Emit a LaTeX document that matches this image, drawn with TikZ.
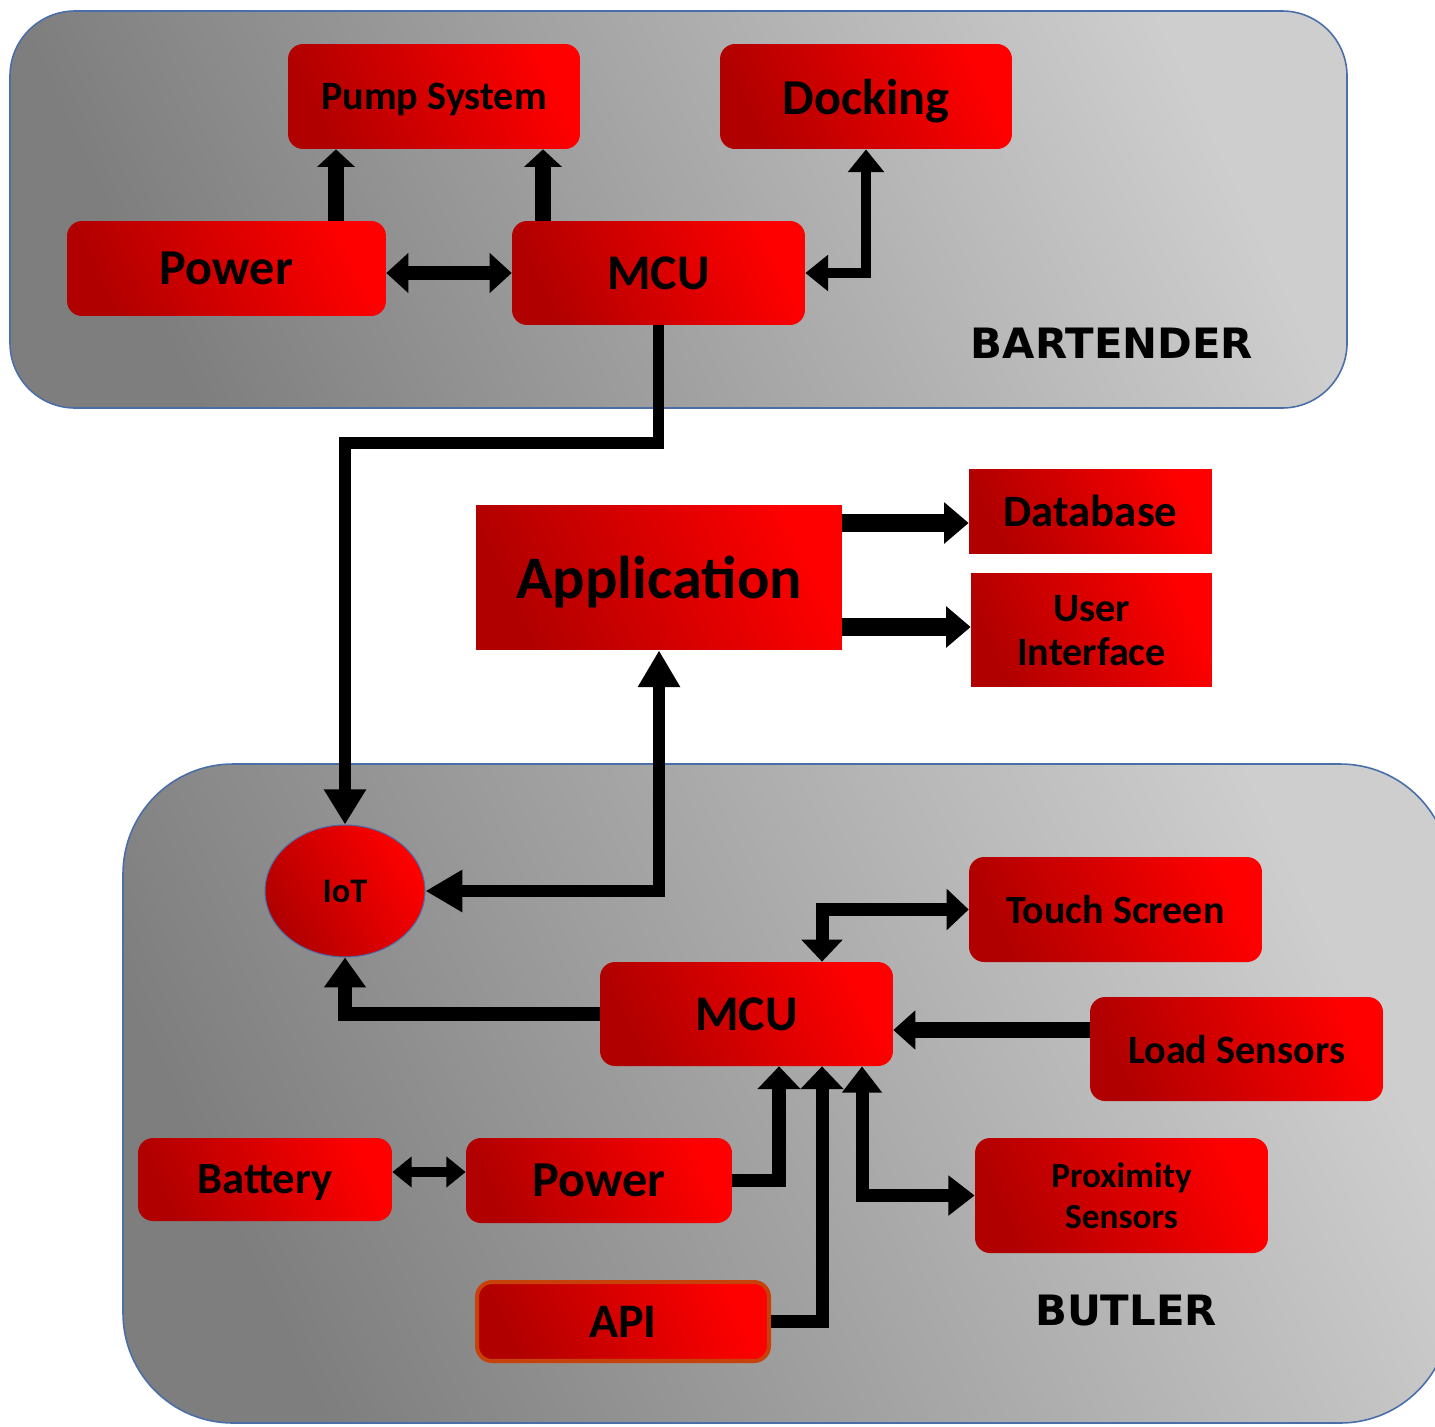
\documentclass[tikz,border=0pt]{standalone}
\usepackage{fontspec}
\setmainfont{Carlito}
\newfontfamily\tagfont{DejaVu Sans}
\usetikzlibrary{arrows.meta,shapes.geometric}
\definecolor{boxDark}{HTML}{B00000}
\definecolor{boxLight}{HTML}{FF0000}
\definecolor{panDark}{HTML}{7E7E7E}
\definecolor{panLight}{HTML}{CECECE}
\definecolor{panEdge}{HTML}{4A6EA8}
\definecolor{apiEdge}{HTML}{C8400A}
\tikzset{
  panel/.style={draw=panEdge,line width=0.9pt,left color=panDark,right color=panLight,shading angle=115},
  redbox/.style={left color=boxDark,right color=boxLight,shading angle=115,rounded corners=0.3cm,inner sep=0pt,
    align=center,text depth=0pt},
  flatbox/.style={redbox,sharp corners},
  dims/.style 2 args={minimum width=#1cm,minimum height=#2cm},
  txt/.style 2 args={font=\bfseries\fontsize{#1}{#2}\selectfont},
  tagtxt/.style={font=\tagfont\bfseries\fontsize{23.8}{27}\selectfont},
  wire/.style={draw=black,line width=#1},
  arrowhead/.style 2 args={>={Triangle[width=#1,length=#2]}}
}
\begin{document}
\begin{tikzpicture}[x=0.02cm,y=-0.02cm]
\path[use as bounding box,clip] (0,0) rectangle (1435,1426);
\fill[white] (0,0) rectangle (1435,1426);
% the two units
\draw[panel,rounded corners=1.3cm] (10,11) rectangle (1347,408);
\draw[panel,rounded corners=2.2cm] (123,764) rectangle (1450,1423);
\node[tagtxt] (barLbl) at (1112,343) {BARTENDER};
\node[tagtxt] (butLbl) at (1126,1311) {BUTLER};

% bartender
\node[redbox,dims={5.84}{2.10},txt={22.9}{26}] (pump) at (434,96.5) {Pump System};
\node[redbox,dims={5.84}{2.10},txt={28.6}{32}] (dock) at (866,96.5) {Docking};
\node[redbox,dims={6.38}{1.90},txt={28.6}{32}] (pwrA) at (226.5,268.5) {Power};
\node[redbox,dims={5.86}{2.08},txt={28.4}{32}] (mcuA) at (658.5,273) {MCU};

% application side
\node[flatbox,dims={7.32}{2.90},txt={34.4}{38}] (app) at (659,577.5) {Application};
\node[flatbox,dims={4.86}{1.68},txt={25.5}{28}] (db) at (1090.5,511) {Database};
\node[flatbox,dims={4.82}{2.28},txt={22.9}{25}] (ui) at (1091.5,630) {User\\Interface};

% butler
\node[ellipse,draw=panEdge,line width=0.6pt,left color=boxDark,right color=boxLight,shading angle=120,
  inner sep=0pt,dims={3.20}{2.64},txt={19.6}{22}] (iot) at (345,891) {IoT};
\node[redbox,dims={5.86}{2.08},txt={28.4}{32}] (mcuB) at (746.5,1014) {MCU};
\node[redbox,dims={5.86}{2.10},txt={22.8}{26}] (touch) at (1115.5,909.5) {Touch Screen};
\node[redbox,dims={5.86}{2.08},txt={22.9}{26}] (load) at (1236.5,1049) {Load Sensors};
\node[redbox,dims={5.86}{2.30},txt={20.1}{23}] (prox) at (1121.5,1195.5) {Proximity\\Sensors};
\node[redbox,dims={5.08}{1.66},txt={25.4}{28}] (batt) at (265,1179.5) {Battery};
\node[redbox,dims={5.32}{1.70},txt={28.6}{32}] (pwrB) at (599,1180.5) {Power};
\node[redbox,draw=apiEdge,line width=2.3pt,dims={5.84}{1.58},txt={27.4}{30}] (api) at (623,1321.5) {API};

% links in the bartender
\draw[wire=9.5pt,arrowhead={21pt}{10pt},->] (pwrA.north -| 336,0) -- (pump.south -| 336,0);
\draw[wire=9.5pt,arrowhead={21pt}{10pt},->] (mcuA.north -| 543,0) -- (pump.south -| 543,0);
\draw[wire=8pt,arrowhead={22pt}{12.5pt},<->] (pwrA.east |- mcuA.west) -- (mcuA.west);
\draw[wire=6pt,arrowhead={20pt}{13pt},<->] (mcuA.east) -| (dock.south);
\draw[wire=6.8pt,arrowhead={22.8pt}{20pt},->] (mcuA.south) -- (mcuA.south |- 0,443) -| (iot.north);

% application links
\draw[wire=10.2pt,arrowhead={22.8pt}{14pt},->] (app.east |- 0,523) -- (db.west |- 0,523);
\draw[wire=10.2pt,arrowhead={22.8pt}{14pt},->] (app.east |- 0,627) -- (ui.west |- 0,627);
\draw[wire=6.8pt,arrowhead={22.8pt}{21pt},<->] (iot.east) -| (app.south);

% links in the butler
\draw[wire=8pt,arrowhead={22.8pt}{17pt},->] (mcuB.west) -| (iot.south);
\draw[wire=7.4pt,arrowhead={22.8pt}{12.5pt},<->] (mcuB.north -| 822,0) |- (touch.west);
\draw[wire=9.5pt,arrowhead={21.6pt}{12.5pt},->] (load.west |- 0,1030) -- (mcuB.east |- 0,1030);
\draw[wire=5.7pt,arrowhead={17pt}{11pt},<->] (batt.east |- 0,1172) -- (pwrB.west |- 0,1172);
\draw[wire=7.8pt,arrowhead={23.9pt}{13pt},->] (pwrB.east) -| (mcuB.south -| 779,0);
\draw[wire=7.4pt,arrowhead={23.9pt}{13pt},->] (api.east) -| (mcuB.south -| 822,0);
\draw[wire=7.4pt,arrowhead={22pt}{15pt},<->] (mcuB.south -| 862,0) |- (prox.west);
\end{tikzpicture}
\end{document}
